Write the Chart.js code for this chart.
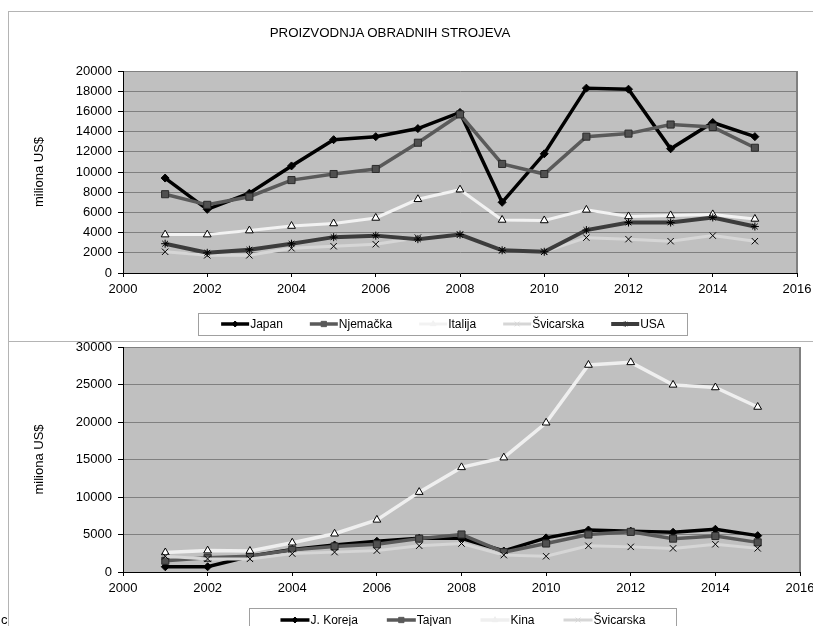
<!DOCTYPE html>
<html>
<head>
<meta charset="utf-8">
<script src="https://cdn.jsdelivr.net/npm/chart.js@4/dist/chart.umd.min.js"></script>
<style>
  html, body { margin: 0; padding: 0; background: #fff; width: 813px; height: 626px; overflow: hidden;
    font-family: "Liberation Sans", Arial, sans-serif; }
  #wrap { position: relative; width: 813px; height: 626px; }
  #c1 { position: absolute; left: 0; top: 0; }
  #c2 { position: absolute; left: 0; top: 342px; }
  .frame { position: absolute; background: #b4b4b4; }
  #title { position: absolute; left: 190px; width: 400px; top: 25px; text-align: center;
    font-size: 13.3px; line-height: 16px; color: #000; white-space: nowrap; }
  #corner { position: absolute; left: 1px; top: 612px; font-size: 13px; line-height: 15px; color: #000; }
</style>
</head>
<body>
<div id="wrap">
  <canvas id="c1" width="813" height="342"></canvas>
  <canvas id="c2" width="813" height="284"></canvas>
  <div class="frame" style="left:8px;top:11px;width:805px;height:1px"></div>
  <div class="frame" style="left:8px;top:11px;width:1px;height:615px"></div>
  <div class="frame" style="left:8px;top:341px;width:805px;height:1px"></div>
  <div id="title">PROIZVODNJA OBRADNIH STROJEVA</div>
  <div id="corner">c</div>
</div>
<script>
// Years on the horizontal axis
const years = [2001, 2002, 2003, 2004, 2005, 2006, 2007, 2008, 2009, 2010, 2011, 2012, 2013, 2014, 2015];

// Machine tool production, millions of US$
const japan     = [9400, 6300, 7900, 10600, 13200, 13500, 14300, 15900, 7000, 11800, 18300, 18200, 12300, 14900, 13500];
const njemacka  = [7800, 6750, 7550, 9200, 9800, 10300, 12900, 15700, 10800, 9800, 13500, 13800, 14700, 14450, 12400];
const italija   = [3800, 3800, 4200, 4650, 4900, 5450, 7300, 8250, 5250, 5200, 6250, 5600, 5700, 5800, 5350];
const svicarska = [2100, 1750, 1750, 2450, 2650, 2850, 3500, 3800, 2250, 2100, 3500, 3350, 3150, 3700, 3150];
const usa       = [2900, 2000, 2300, 2900, 3550, 3700, 3350, 3800, 2250, 2100, 4250, 5000, 5000, 5500, 4600];
const koreja    = [700, 700, 2100, 3000, 3600, 4100, 4500, 4500, 2800, 4550, 5600, 5450, 5300, 5700, 4850];
const tajvan    = [1500, 1900, 2100, 2950, 3400, 3700, 4450, 5000, 2650, 3800, 5000, 5350, 4450, 4800, 3950];
const kina      = [2600, 2850, 2800, 3900, 5100, 6950, 10650, 13950, 15250, 19900, 27600, 27950, 24950, 24600, 22000];

const FONT = "'Liberation Sans', Arial, sans-serif";
Chart.defaults.font.family = FONT;
Chart.defaults.color = '#000';

const pts = arr => years.map((y, i) => ({ x: y, y: arr[i] }));

function series(label, data, o) {
  return {
    label, data: pts(data),
    borderColor: o.line, borderWidth: o.width, tension: 0, fill: false,
    pointStyle: o.marker, pointRadius: o.r, pointHoverRadius: o.r,
    pointBackgroundColor: o.fill, pointBorderColor: o.edge, pointBorderWidth: 1,
    order: o.order
  };
}

// Grey plotting area with a darker right edge
const plotFrame = {
  id: 'plotFrame',
  beforeDraw(chart) {
    const { ctx, chartArea: a } = chart;
    ctx.save();
    ctx.fillStyle = '#c0c0c0';
    ctx.fillRect(a.left, a.top, a.right - a.left, a.bottom - a.top);
    ctx.restore();
  },
  beforeDatasetsDraw(chart) {
    const { ctx, chartArea: a } = chart;
    ctx.save();
    ctx.strokeStyle = '#808080';
    ctx.lineWidth = 2;
    ctx.beginPath();
    ctx.moveTo(a.right, a.top);
    ctx.lineTo(a.right, a.bottom);
    ctx.stroke();
    ctx.restore();
  }
};

// Boxed legend with a short line sample and marker for each series
const lineLegend = {
  id: 'lineLegend',
  afterDraw(chart, args, opts) {
    const { ctx } = chart;
    const b = opts.box;
    ctx.save();
    ctx.strokeStyle = '#a0a0a0';
    ctx.lineWidth = 1;
    ctx.strokeRect(b.x + 0.5, b.y + 0.5, b.w, b.h);
    ctx.font = '12px ' + FONT;
    const ds = chart.data.datasets;
    const widths = ds.map(d => ctx.measureText(d.label).width);
    const total = widths.reduce((s, w) => s + w, 0) + ds.length * opts.sample + (ds.length - 1) * opts.gap;
    let x = b.x + b.w / 2 - total / 2;
    const cy = opts.y;
    ds.forEach((d, i) => {
      ctx.strokeStyle = d.borderColor;
      ctx.lineWidth = d.borderWidth;
      ctx.beginPath();
      ctx.moveTo(x, cy);
      ctx.lineTo(x + opts.sample, cy);
      ctx.stroke();
      ctx.fillStyle = d.borderColor;
      ctx.strokeStyle = d.borderColor;
      ctx.lineWidth = 1;
      Chart.helpers.drawPoint(ctx, { pointStyle: d.pointStyle, radius: d.pointRadius * 0.75, borderWidth: 1, rotation: 0 },
        x + opts.sample / 2, cy);
      ctx.fillStyle = '#000';
      ctx.textBaseline = 'middle';
      ctx.textAlign = 'left';
      ctx.fillText(d.label, x + opts.sample + 1, cy + 0.5);
      x += opts.sample + widths[i] + opts.gap;
    });
    ctx.restore();
  }
};

function scales(yMax, yStep) {
  return {
    x: {
      type: 'linear', min: 2000, max: 2016,
      ticks: { stepSize: 2, font: { size: 13 }, padding: 5, maxRotation: 0, autoSkip: false, callback: v => String(v) },
      grid: { display: true, drawOnChartArea: false, tickColor: '#000', tickLength: 4 },
      border: { color: '#000', width: 1 },
      // fixed axis height; end labels may overhang the canvas edge
      afterFit(s) { s.height = 30; s.paddingLeft = 0; s.paddingRight = 0; }
    },
    y: {
      min: 0, max: yMax,
      ticks: { stepSize: yStep, font: { size: 13 }, padding: 6, callback: v => String(v) },
      grid: {
        color: c => (c.tick && c.tick.value === 0) ? 'rgba(0,0,0,0)' : '#808080',
        tickColor: '#000', tickLength: 5
      },
      border: { color: '#000', width: 1 },
      title: { display: true, text: 'miliona US$', font: { size: 13 }, padding: { top: 32, bottom: 0 } },
      afterFit(s) { s.width = 123; s.paddingTop = 0; s.paddingBottom = 0; }
    }
  };
}

new Chart(document.getElementById('c1'), {
  type: 'line',
  data: {
    datasets: [
      series('Japan', japan, { line: '#000000', width: 3.5, marker: 'rectRot', r: 4, fill: '#000', edge: '#000', order: 5 }),
      series('Njemačka', njemacka, { line: '#5a5a5a', width: 3.5, marker: 'rect', r: 5, fill: '#505050', edge: '#2a2a2a', order: 4 }),
      series('Italija', italija, { line: '#f2f2f2', width: 3, marker: 'triangle', r: 4.5, fill: '#ffffff', edge: '#000', order: 3 }),
      series('Švicarska', svicarska, { line: '#d6d6d6', width: 3, marker: 'crossRot', r: 4.5, fill: '#000', edge: '#000', order: 2 }),
      series('USA', usa, { line: '#3c3c3c', width: 4, marker: 'star', r: 4, fill: '#000', edge: '#000', order: 1 })
    ]
  },
  options: {
    responsive: false, animation: false,
    layout: { autoPadding: false, padding: { left: 0, right: 16, top: 71, bottom: 39 } },
    scales: scales(20000, 2000),
    plugins: {
      legend: { display: false },
      tooltip: { enabled: false },
      lineLegend: { box: { x: 198, y: 313, w: 489, h: 22 }, y: 324, sample: 28, gap: 28 }
    }
  },
  plugins: [plotFrame, lineLegend]
});

new Chart(document.getElementById('c2'), {
  type: 'line',
  data: {
    datasets: [
      series('J. Koreja', koreja, { line: '#000000', width: 3.5, marker: 'rectRot', r: 4, fill: '#000', edge: '#000', order: 4 }),
      series('Tajvan', tajvan, { line: '#5a5a5a', width: 3.5, marker: 'rect', r: 5, fill: '#505050', edge: '#2a2a2a', order: 3 }),
      series('Kina', kina, { line: '#efefef', width: 3.5, marker: 'triangle', r: 4.5, fill: '#ffffff', edge: '#000', order: 2 }),
      series('Švicarska', svicarska, { line: '#d6d6d6', width: 3, marker: 'crossRot', r: 4.5, fill: '#000', edge: '#000', order: 1 })
    ]
  },
  options: {
    responsive: false, animation: false,
    layout: { autoPadding: false, padding: { left: 0, right: 13, top: 5, bottom: 24 } },
    scales: scales(30000, 5000),
    plugins: {
      legend: { display: false },
      tooltip: { enabled: false },
      lineLegend: { box: { x: 249, y: 266, w: 427, h: 30 }, y: 278, sample: 29, gap: 30 }
    }
  },
  plugins: [plotFrame, lineLegend]
});
</script>
</body>
</html>
